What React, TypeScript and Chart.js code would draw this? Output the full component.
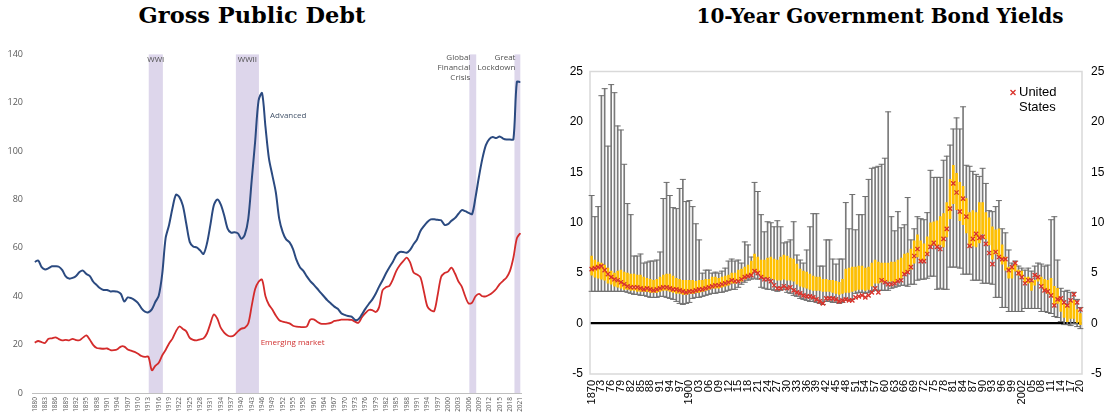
import React, { useEffect, useRef } from 'react';
import { Chart, registerables } from 'chart.js';

Chart.register(...registerables);

// ---------------- Left panel: Gross Public Debt (% of GDP) ----------------
const DEBT_YEARS: number[] = Array.from({ length: 142 }, (_, i) => 1880 + i);
const DEBT_TICK_YEARS: number[] = DEBT_YEARS.filter((y) => (y - 1880) % 3 === 0);

const ADVANCED: number[] = [
  54.2, 54.8, 52.0, 51.1, 51.6, 52.4, 52.4, 52.2, 50.8, 48.2, // 1880
  47.3, 47.6, 48.4, 50.0, 50.6, 49.2, 48.3, 46.0, 44.6, 43.3, // 1890
  42.6, 42.6, 42.0, 42.1, 41.9, 41.0, 37.8, 39.5, 39.2, 38.4, // 1900
  37.2, 35.0, 33.6, 33.4, 34.6, 37.6, 40.2, 49.0, 64.0, 69.5, // 1910
  76.5, 82.0, 81.0, 77.5, 70.0, 62.5, 60.6, 60.2, 59.0, 57.5, // 1920
  61.8, 69.5, 77.6, 80.0, 78.0, 73.5, 68.0, 66.3, 66.5, 66.0, // 1930
  63.8, 65.5, 72.0, 88.0, 104.0, 121.0, 124.0, 110.0, 97.0, 90.0, // 1940
  83.0, 72.0, 66.5, 63.5, 62.3, 59.5, 55.0, 52.0, 50.5, 48.2, // 1950
  46.3, 44.8, 43.2, 41.5, 39.9, 38.3, 37.0, 35.7, 34.8, 33.0, // 1960
  32.3, 31.8, 31.6, 30.2, 30.5, 32.5, 34.8, 36.8, 38.6, 41.0, // 1970
  44.0, 46.6, 49.5, 52.0, 54.3, 57.0, 58.3, 58.3, 58.0, 59.2, // 1980
  61.5, 63.5, 67.0, 69.0, 70.7, 71.8, 71.8, 71.6, 71.4, 69.5, // 1990
  69.8, 71.2, 72.3, 74.0, 75.6, 75.2, 74.5, 74.0, 81.0, 89.5, // 2000
  97.0, 102.5, 105.0, 105.8, 105.4, 106.1, 105.2, 104.8, 104.8, 104.9, // 2010
  128.6, 128.6, // 2020
];

const EMERGING: number[] = [
  20.8, 21.5, 21.0, 20.7, 22.4, 22.6, 23.0, 22.3, 21.8, 22.0, // 1880
  21.8, 22.4, 21.9, 21.8, 22.9, 23.8, 22.0, 19.8, 18.6, 18.4, // 1890
  18.3, 18.4, 17.7, 17.7, 18.1, 19.2, 19.2, 18.0, 17.5, 17.0, // 1900
  16.2, 15.3, 14.9, 15.0, 9.4, 11.2, 12.5, 15.5, 17.8, 20.5, // 1910
  22.5, 25.5, 27.5, 26.5, 25.5, 22.8, 22.0, 21.8, 22.2, 22.6, // 1920
  24.6, 28.7, 32.5, 30.8, 27.0, 25.0, 23.8, 23.4, 24.0, 25.5, // 1930
  26.6, 27.0, 28.7, 36.0, 43.0, 46.0, 46.9, 40.0, 36.5, 34.5, // 1940
  32.0, 30.1, 29.5, 29.2, 28.8, 27.8, 27.4, 27.3, 27.2, 27.5, // 1950
  30.3, 30.4, 29.5, 28.7, 28.6, 28.7, 29.0, 29.8, 30.0, 30.3, // 1960
  30.3, 30.3, 30.2, 29.5, 29.0, 31.3, 33.0, 34.3, 34.3, 33.5, // 1970
  35.5, 42.5, 43.8, 44.3, 47.0, 50.5, 52.8, 54.5, 56.0, 54.0, // 1980
  49.8, 49.0, 47.8, 42.0, 35.8, 34.2, 33.9, 40.5, 48.0, 49.6, // 1990
  50.2, 51.8, 49.5, 46.2, 44.0, 40.0, 37.0, 37.4, 40.0, 41.0, // 2000
  40.0, 40.0, 40.6, 41.6, 43.0, 45.0, 46.4, 47.8, 50.5, 56.0, // 2010
  64.0, 66.1, // 2020
];

const BAND_START: number[] = [1913.1, 1938.4, 2006.2, 2019.3];
const BAND_END: number[] = [1917.2, 1945.1, 2008.2, 2021.0];
const BAND_LABELS: string[][] = [['WWI'], ['WWII'], ['Global', 'Financial', 'Crisis'], ['Great', 'Lockdown']];

// ---------------- Right panel: 10-year government bond yields ----------------
const YIELD_YEARS: number[] = Array.from({ length: 151 }, (_, i) => 1870 + i);

const Y_MAX: number[] = [
  12.7, 10.6, 11.6, 22.6, 23.3, 17.6, 23.7, 22.9, 19.6, 19.2, // 1870
  15.8, 11.9, 10.8, 6.7, 6.7, 6.9, 6.0, 6.1, 6.2, 6.2, // 1880
  6.3, 7.1, 12.4, 14.0, 12.7, 11.5, 11.4, 13.4, 14.3, 12.1, // 1890
  12.2, 11.6, 9.9, 8.3, 5.0, 5.3, 5.3, 5.0, 5.1, 5.0, // 1900
  5.2, 5.5, 6.2, 6.4, 6.2, 6.3, 6.0, 8.1, 7.8, 6.6, // 1910
  14.0, 13.1, 10.8, 9.1, 10.1, 10.0, 9.6, 10.2, 9.6, 8.0, // 1920
  8.1, 8.3, 10.1, 6.8, 6.3, 6.0, 7.3, 9.6, 10.9, 10.9, // 1930
  5.7, 5.7, 8.3, 8.3, 6.4, 5.9, 6.4, 6.4, 12.0, 9.4, // 1940
  12.8, 9.3, 10.8, 10.8, 12.6, 14.3, 15.4, 15.5, 15.6, 15.8, // 1950
  16.4, 21.0, 10.6, 9.2, 11.1, 9.5, 9.8, 12.5, 8.3, 9.4, // 1960
  10.6, 10.4, 10.3, 11.0, 15.2, 14.5, 14.5, 14.5, 16.2, 16.6, // 1970
  17.7, 19.3, 20.4, 19.3, 21.5, 15.7, 15.6, 15.1, 14.8, 14.6, // 1980
  15.4, 13.9, 11.2, 11.1, 11.6, 12.2, 9.4, 9.0, 7.3, 6.0, // 1990
  6.2, 5.7, 5.5, 5.3, 5.5, 5.2, 5.7, 6.0, 5.9, 5.7, // 2000
  5.8, 10.3, 10.6, 6.3, 3.5, 3.2, 3.3, 3.1, 3.1, 2.4, // 2010
  1.6, // 2020
];

const Y_MIN: number[] = [
  3.2, 3.2, 3.2, 3.2, 3.2, 3.2, 3.2, 3.2, 3.2, 3.2, // 1870
  3.2, 3.1, 3.0, 2.9, 2.9, 2.8, 2.8, 2.7, 2.6, 2.6, // 1880
  2.6, 2.7, 2.7, 2.6, 2.5, 2.4, 2.2, 2.0, 1.9, 2.0, // 1890
  2.1, 2.5, 2.6, 2.6, 2.7, 2.8, 2.9, 3.0, 3.0, 3.1, // 1900
  3.1, 3.2, 3.3, 3.4, 3.4, 3.6, 3.9, 4.1, 4.3, 4.4, // 1910
  4.5, 4.4, 3.6, 3.5, 3.4, 3.4, 3.3, 3.2, 3.3, 3.4, // 1920
  3.1, 3.0, 2.8, 2.7, 2.5, 2.4, 2.3, 2.2, 2.2, 2.1, // 1930
  2.0, 1.9, 2.2, 2.2, 2.1, 2.1, 2.0, 2.1, 2.3, 2.3, // 1940
  2.4, 3.0, 3.1, 3.1, 3.0, 3.1, 3.2, 3.3, 3.3, 3.3, // 1950
  3.3, 3.3, 3.5, 3.6, 3.7, 3.8, 3.8, 3.7, 3.9, 3.9, // 1960
  4.3, 4.4, 4.4, 4.5, 4.7, 4.7, 3.4, 3.5, 3.4, 3.4, // 1970
  5.6, 5.6, 5.6, 5.5, 4.9, 4.9, 4.9, 4.3, 4.3, 4.3, // 1980
  4.0, 4.0, 4.0, 3.9, 2.6, 2.6, 1.6, 1.6, 1.2, 1.2, // 1990
  1.2, 1.2, 1.2, 1.5, 1.5, 1.5, 1.5, 1.5, 1.2, 1.2, // 2000
  1.1, 1.0, 0.7, 0.6, 0.2, -0.1, -0.1, -0.2, 0.0, -0.3, // 2010
  -0.5, // 2020
];

const Y_Q1: number[] = [
  4.8, 4.6, 4.5, 4.4, 4.3, 4.0, 3.9, 3.7, 3.6, 3.5, // 1870
  3.4, 3.4, 3.3, 3.3, 3.2, 3.2, 3.2, 3.2, 3.1, 3.1, // 1880
  3.1, 3.2, 3.3, 3.3, 3.2, 3.1, 3.0, 3.0, 2.9, 2.9, // 1890
  3.0, 3.0, 3.1, 3.1, 3.2, 3.3, 3.4, 3.5, 3.5, 3.5, // 1900
  3.6, 3.7, 3.8, 4.0, 4.0, 4.2, 4.2, 4.4, 4.6, 4.8, // 1910
  5.2, 5.0, 4.7, 4.6, 4.5, 4.5, 4.4, 4.3, 4.3, 4.4, // 1920
  4.3, 4.3, 4.2, 3.9, 3.7, 3.6, 3.5, 3.4, 3.3, 3.3, // 1930
  3.3, 3.2, 3.2, 3.2, 3.1, 3.0, 2.9, 3.0, 3.1, 3.1, // 1940
  3.2, 3.3, 3.4, 3.4, 3.3, 3.4, 3.7, 4.0, 4.0, 4.1, // 1950
  4.2, 4.2, 4.2, 4.1, 4.3, 4.5, 5.0, 5.1, 5.4, 6.0, // 1960
  6.6, 6.3, 6.2, 6.8, 7.8, 7.8, 7.7, 7.8, 7.6, 8.6, // 1970
  10.4, 11.9, 11.3, 10.2, 9.8, 9.0, 7.6, 7.7, 7.6, 8.0, // 1980
  8.9, 8.4, 7.8, 6.4, 6.9, 6.6, 5.9, 5.3, 4.5, 4.5, // 1990
  5.2, 4.8, 4.7, 4.1, 4.0, 3.3, 3.8, 4.2, 3.8, 3.3, // 2000
  3.0, 2.8, 1.8, 2.0, 1.2, 0.6, 0.2, 0.5, 0.5, 0.0, // 2010
  -0.1, // 2020
];

const Y_Q3: number[] = [
  6.7, 6.3, 6.1, 6.0, 5.8, 5.5, 5.2, 5.0, 5.2, 5.3, // 1870
  5.1, 5.0, 4.9, 4.9, 4.8, 4.8, 4.6, 4.5, 4.4, 4.3, // 1880
  4.4, 4.6, 4.8, 4.9, 4.9, 4.7, 4.5, 4.4, 4.3, 4.3, // 1890
  4.3, 4.3, 4.2, 4.3, 4.3, 4.4, 4.4, 4.6, 4.6, 4.5, // 1900
  4.6, 4.7, 4.8, 5.0, 5.0, 5.3, 5.4, 5.6, 5.8, 6.2, // 1910
  6.9, 6.6, 6.3, 6.3, 6.5, 6.6, 6.4, 6.3, 6.6, 6.8, // 1920
  6.7, 6.5, 6.4, 5.9, 5.4, 5.2, 5.1, 4.9, 4.7, 4.6, // 1930
  4.6, 4.4, 4.4, 4.3, 4.3, 4.2, 4.1, 4.4, 5.4, 5.5, // 1940
  5.6, 5.6, 5.7, 5.7, 5.5, 5.6, 6.0, 6.3, 6.1, 6.0, // 1950
  6.0, 6.0, 6.1, 6.1, 6.3, 6.5, 6.9, 7.0, 7.4, 8.2, // 1960
  8.8, 8.2, 7.9, 8.6, 10.0, 10.1, 10.2, 10.6, 10.9, 12.0, // 1970
  14.3, 15.7, 14.9, 14.0, 13.6, 12.4, 11.0, 11.2, 11.0, 12.0, // 1980
  12.0, 11.0, 10.5, 9.6, 9.3, 9.4, 7.8, 6.6, 5.6, 5.6, // 1990
  5.9, 5.3, 5.2, 4.6, 4.6, 4.1, 4.3, 4.7, 4.6, 4.4, // 2000
  4.3, 4.5, 3.7, 3.5, 2.5, 1.9, 1.7, 2.2, 2.3, 1.4, // 2010
  1.0, // 2020
];

const US_YIELD: number[] = [
  5.4, 5.5, 5.6, 5.7, 5.3, 4.9, 4.6, 4.4, 4.3, 4.1, // 1870
  3.9, 3.7, 3.6, 3.6, 3.6, 3.5, 3.4, 3.5, 3.4, 3.3, // 1880
  3.4, 3.5, 3.6, 3.6, 3.5, 3.4, 3.4, 3.3, 3.2, 3.1, // 1890
  3.2, 3.2, 3.3, 3.4, 3.4, 3.5, 3.6, 3.7, 3.8, 3.8, // 1900
  3.9, 4.0, 4.1, 4.3, 4.2, 4.2, 4.4, 4.6, 4.7, 4.8, // 1910
  5.2, 5.0, 4.6, 4.4, 4.4, 4.2, 3.8, 3.5, 3.5, 3.7, // 1920
  3.5, 3.6, 3.3, 3.1, 3.0, 2.8, 2.7, 2.7, 2.6, 2.4, // 1930
  2.2, 2.0, 2.5, 2.5, 2.5, 2.4, 2.2, 2.3, 2.4, 2.3, // 1940
  2.3, 2.6, 2.7, 2.8, 2.6, 2.8, 3.1, 3.5, 3.1, 4.3, // 1950
  4.1, 3.9, 3.9, 4.0, 4.2, 4.3, 4.9, 5.1, 5.6, 6.7, // 1960
  7.4, 6.2, 6.2, 6.9, 7.6, 8.0, 7.6, 7.4, 8.4, 9.4, // 1970
  11.4, 13.9, 13.0, 11.1, 12.4, 10.6, 7.7, 8.4, 8.9, 8.5, // 1980
  8.6, 7.9, 7.0, 5.9, 7.1, 6.6, 6.4, 6.4, 5.3, 5.6, // 1990
  6.0, 5.0, 4.6, 4.0, 4.3, 4.3, 4.8, 4.6, 3.7, 3.3, // 2000
  3.2, 2.8, 1.8, 2.4, 2.5, 2.1, 1.8, 2.3, 2.9, 2.1, // 2010
  1.4, // 2020
];

// ---------------- plugins ----------------
const bandsPlugin = {
  id: 'bands',
  beforeDatasetsDraw(chart: any) {
    const { ctx, chartArea, scales } = chart;
    ctx.save();
    ctx.fillStyle = '#DDD6EB';
    BAND_START.forEach((s, i) => {
      const x0 = scales.x.getPixelForValue(s);
      const x1 = scales.x.getPixelForValue(BAND_END[i]);
      ctx.fillRect(x0, chartArea.top, x1 - x0, chartArea.bottom - chartArea.top);
    });
    ctx.restore();
  },
  afterDatasetsDraw(chart: any) {
    const { ctx, chartArea, scales } = chart;
    ctx.save();
    ctx.font = '8px "Open Sans"';
    ctx.fillStyle = '#505050';
    ctx.textBaseline = 'middle';
    BAND_LABELS.forEach((lines, i) => {
      const x0 = scales.x.getPixelForValue(BAND_START[i]);
      const x1 = scales.x.getPixelForValue(BAND_END[i]);
      if (lines.length === 1) {
        ctx.textAlign = 'center';
        ctx.fillText(lines[0], (x0 + x1) / 2, chartArea.top + 5);
      } else {
        ctx.textAlign = 'right';
        lines.forEach((t, j) => ctx.fillText(t, x0 + 1, chartArea.top + 3 + j * 10.3));
      }
    });
    // series labels
    ctx.textAlign = 'left';
    ctx.fillStyle = '#44546A';
    ctx.fillText('Advanced', scales.x.getPixelForValue(1948.3), scales.y.getPixelForValue(114.8));
    ctx.fillStyle = '#D0302F';
    ctx.fillText('Emerging market', scales.x.getPixelForValue(1945.6), scales.y.getPixelForValue(20.8));
    ctx.restore();
  },
};

const boxPlugin = {
  id: 'box',
  beforeDatasetsDraw(chart: any) {
    const { ctx, chartArea } = chart;
    ctx.save();
    ctx.strokeStyle = '#D9D9D9';
    ctx.lineWidth = 1.5;
    ctx.strokeRect(chartArea.left, chartArea.top, chartArea.right - chartArea.left, chartArea.bottom - chartArea.top);
    ctx.restore();
  },
  afterDraw(chart: any) {
    const { ctx, chartArea } = chart;
    const label: string = chart.data.datasets[0].label;
    const words = label.split(' ');
    const mx = chartArea.right - 69;
    const my = chartArea.top + 21;
    ctx.save();
    ctx.strokeStyle = '#D9322A';
    ctx.lineWidth = 1.3;
    ctx.beginPath();
    ctx.moveTo(mx - 2.5, my - 2.5);
    ctx.lineTo(mx + 2.5, my + 2.5);
    ctx.moveTo(mx - 2.5, my + 2.5);
    ctx.lineTo(mx + 2.5, my - 2.5);
    ctx.stroke();
    ctx.fillStyle = '#000';
    ctx.font = '13px "Liberation Sans"';
    ctx.textAlign = 'left';
    ctx.textBaseline = 'middle';
    words.forEach((w, i) => ctx.fillText(w, chartArea.right - 63, my + i * 15));
    ctx.restore();
  },
};

function DebtChart() {
  const ref = useRef<HTMLCanvasElement | null>(null);
  useEffect(() => {
    if (!ref.current) return;
    const chart = new Chart(ref.current, {
      type: 'line',
      data: {
        datasets: [
          {
            label: 'Advanced',
            data: DEBT_YEARS.map((x, i) => ({ x, y: ADVANCED[i] })),
            borderColor: '#2B4A80',
            borderWidth: 2,
            pointRadius: 0,
            tension: 0.3,
          },
          {
            label: 'Emerging market',
            data: DEBT_YEARS.map((x, i) => ({ x, y: EMERGING[i] })),
            borderColor: '#D42B2B',
            borderWidth: 1.8,
            pointRadius: 0,
            tension: 0.3,
          },
        ],
      } as any,
      options: {
        animation: false,
        responsive: false,
        maintainAspectRatio: false,
        layout: { padding: { top: 14, right: 19, left: 0, bottom: 0 } },
        plugins: { legend: { display: false }, tooltip: { enabled: false } },
        scales: {
          x: {
            type: 'linear',
            min: 1879.2,
            max: 2021.2,
            grid: { display: false, drawTicks: false },
            border: { display: true, color: '#BFBFBF', width: 1 },
            afterBuildTicks: (s: any) => {
              s.ticks = DEBT_TICK_YEARS.map((v) => ({ value: v }));
            },
            afterFit: (s: any) => {
              s.height = 27;
            },
            ticks: {
              autoSkip: false,
              minRotation: 90,
              maxRotation: 90,
              padding: 4,
              color: '#595959',
              font: { family: 'Open Sans', size: 6.5 },
              callback: (v: any) => String(v),
            },
          },
          y: {
            min: 0,
            max: 140,
            grid: { display: false, drawTicks: false },
            border: { display: false },
            afterFit: (s: any) => {
              s.width = 32;
            },
            ticks: { stepSize: 20, padding: 9, color: '#595959', font: { family: 'Open Sans', size: 9 } },
          },
        },
      } as any,
      plugins: [bandsPlugin],
    });
    return () => chart.destroy();
  }, []);
  return <canvas ref={ref} width={540} height={380} style={{ position: 'absolute', left: 0, top: 40, width: 540, height: 380 }} />;
}

function YieldChart() {
  const ref = useRef<HTMLCanvasElement | null>(null);
  useEffect(() => {
    if (!ref.current) return;
    const tickFont = { family: 'Liberation Sans', size: 12 };
    const chart = new Chart(ref.current, {
      type: 'bar',
      data: {
        labels: YIELD_YEARS.map(String),
        datasets: [
          {
            type: 'line',
            label: 'United States',
            data: US_YIELD,
            showLine: false,
            pointStyle: 'crossRot',
            pointRadius: 3,
            pointBorderWidth: 1.3,
            borderColor: '#D9322A',
            backgroundColor: 'transparent',
            order: 0,
          },
          {
            type: 'bar',
            label: 'Interquartile range',
            data: Y_Q1.map((q, i) => [q, Y_Q3[i]]),
            backgroundColor: '#FFC000',
            barThickness: 2,
            grouped: false,
            order: 1,
          },
          {
            type: 'line',
            label: 'Maximum',
            data: Y_MAX,
            showLine: false,
            pointStyle: 'line',
            pointRadius: 3,
            pointBorderWidth: 1,
            borderColor: '#6E6E6E',
            order: 2,
          },
          {
            type: 'line',
            label: 'Minimum',
            data: Y_MIN,
            showLine: false,
            pointStyle: 'line',
            pointRadius: 3,
            pointBorderWidth: 1,
            borderColor: '#6E6E6E',
            order: 2,
          },
          {
            type: 'bar',
            label: 'Range',
            data: Y_MIN.map((m, i) => [m, Y_MAX[i]]),
            backgroundColor: '#7A7A7A',
            barThickness: 1,
            grouped: false,
            order: 3,
          },
        ],
      } as any,
      options: {
        animation: false,
        responsive: false,
        maintainAspectRatio: false,
        layout: { padding: { top: 21.5, right: 0, left: 0, bottom: 0 } },
        plugins: { legend: { display: false }, tooltip: { enabled: false } },
        scales: {
          x: {
            offset: true,
            grid: { display: false, drawTicks: false },
            border: { display: false },
            afterFit: (s: any) => {
              s.height = 46;
            },
            ticks: {
              autoSkip: false,
              minRotation: 90,
              maxRotation: 90,
              padding: 6,
              color: '#000',
              font: { family: 'Liberation Sans', size: 11 },
              callback: (_v: any, index: number) => {
                const year = YIELD_YEARS[index];
                if ((year - YIELD_YEARS[0]) % 3 !== 0) return '';
                const full = index === 0 || Math.floor((year - 3) / 100) !== Math.floor(year / 100);
                return full ? String(year) : String(year).slice(2);
              },
            },
          },
          y: {
            min: -5,
            max: 25,
            border: { display: false },
            grid: {
              drawTicks: false,
              color: (c: any) => (c.tick && c.tick.value === 0 ? '#000' : 'rgba(0,0,0,0)'),
              lineWidth: (c: any) => (c.tick && c.tick.value === 0 ? 2.2 : 0),
            },
            afterFit: (s: any) => {
              s.width = 45;
            },
            ticks: { stepSize: 5, padding: 7, color: '#000', font: tickFont },
          },
          y2: {
            position: 'right',
            min: -5,
            max: 25,
            border: { display: false },
            grid: { display: false, drawTicks: false },
            afterFit: (s: any) => {
              s.width = 22;
            },
            ticks: { stepSize: 5, padding: 9, color: '#000', font: tickFont },
          },
        },
      } as any,
      plugins: [boxPlugin],
    });
    return () => chart.destroy();
  }, []);
  return <canvas ref={ref} width={559} height={370} style={{ position: 'absolute', left: 545, top: 50, width: 559, height: 370 }} />;
}

const titleStyle: React.CSSProperties = {
  position: 'absolute',
  fontFamily: '"DejaVu Serif", serif',
  fontWeight: 'bold',
  whiteSpace: 'nowrap',
  transform: 'translateX(-50%)',
  color: '#000',
};

export default function App() {
  return (
    <div style={{ position: 'fixed', left: 0, top: 0, width: 1104, height: 420, background: '#fff', overflow: 'hidden' }}>
      <div style={{ ...titleStyle, left: 252, top: 2, fontSize: 22.5 }}>Gross Public Debt</div>
      <div style={{ ...titleStyle, left: 880, top: 4, fontSize: 20 }}>10-Year Government Bond Yields</div>
      <DebtChart />
      <YieldChart />
    </div>
  );
}
